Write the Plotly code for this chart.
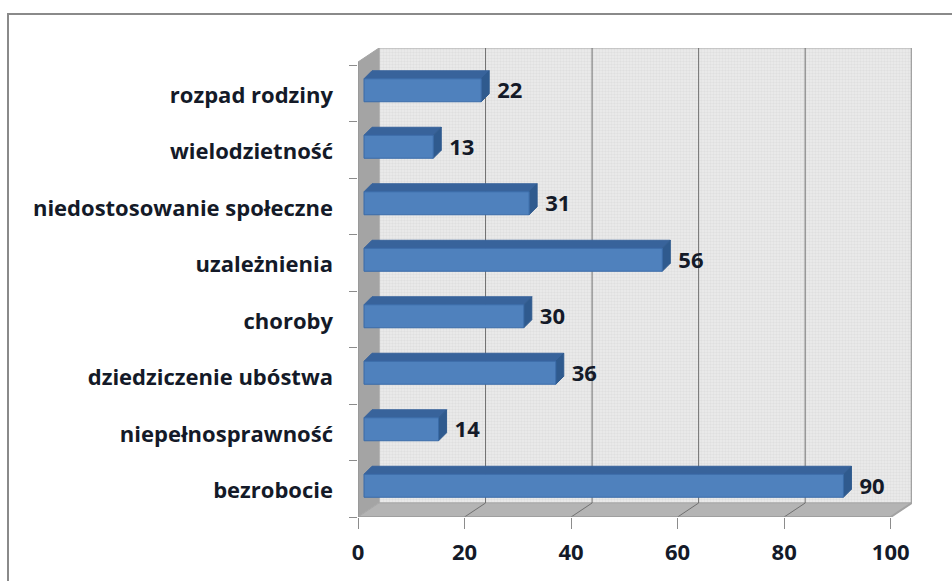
import plotly.graph_objects as go

categories = ["bezrobocie", "niepełnosprawność", "dziedziczenie ubóstwa", "choroby",
              "uzależnienia", "niedostosowanie społeczne", "wielodzietność", "rozpad rodziny"]
values = [90, 14, 36, 30, 56, 31, 13, 22]
x_ticks = [0, 20, 40, 60, 80, 100]

W, H = 952, 581
LEFT, RIGHT, TOP, BOTTOM = 358, 912, 48, 517
SX = 5.327          # px per value unit
SY = 56.5           # px per category
DEPTH_X, DEPTH_Y = 21, 14   # wall depth in px
BAR_DX, BAR_DY = 8, 8       # bar depth in px
BAR_START = 6 / SX
BAR_H = 23 / SY
BAR_CENTER_SHIFT = 3 / SY
LABEL_GAP = 8 / SX

dx, dy = DEPTH_X / SX, DEPTH_Y / SY
ddx, ddy = BAR_DX / SX, BAR_DY / SY
y0 = -0.5
y1 = y0 + (BOTTOM - TOP) / SY
xmax = (RIGHT - LEFT) / SX
back_top = y1
wall_top = y1 - dy
FONT = "Open Sans"
FS = 22
TXT = "#141a28"

fig = go.Figure()


def poly(xs, ys, fill, line=None, **kw):
    fig.add_trace(go.Scatter(x=xs, y=ys, mode="lines", fill="toself", fillcolor=fill,
                             line=dict(color=line or fill, width=1), hoverinfo="skip",
                             showlegend=False, xaxis="x", yaxis="y", **kw))


# back wall
poly([dx, 100 + dx, 100 + dx, dx, dx], [y0 + dy, y0 + dy, back_top, back_top, y0 + dy], "#e6e6e6", "#a6a6a6",
     fillpattern=dict(shape=".", bgcolor="#ececec", fgcolor="#d2d2d2", size=3, solidity=0.5))
# side wall
poly([0, dx, dx, 0, 0], [y0, y0 + dy, back_top, wall_top, y0], "#a4a4a4", "#a4a4a4")
# floor
poly([0, 100, 100 + dx, dx, 0], [y0, y0, y0 + dy, y0 + dy, y0], "#b4b4b4", "#a8a8a8")

# gridlines: across the floor then up the back wall
for t in x_ticks[1:-1]:
    fig.add_trace(go.Scatter(x=[t, t + dx, t + dx], y=[y0, y0 + dy, back_top], mode="lines",
                             line=dict(color="#707070", width=1), hoverinfo="skip",
                             showlegend=False, xaxis="x", yaxis="y"))
# right edge of back wall, thicker
fig.add_trace(go.Scatter(x=[100, 100 + dx, 100 + dx], y=[y0, y0 + dy, back_top], mode="lines",
                         line=dict(color="#a2a2a2", width=2), hoverinfo="skip",
                         showlegend=False, xaxis="x", yaxis="y"))
# front edges of the floor and side wall
fig.add_trace(go.Scatter(x=[0, 100], y=[y0, y0], mode="lines", line=dict(color="#909090", width=1),
                         hoverinfo="skip", showlegend=False, xaxis="x", yaxis="y"))
fig.add_trace(go.Scatter(x=[0, 0], y=[y0, wall_top], mode="lines", line=dict(color="#909090", width=1),
                         hoverinfo="skip", showlegend=False, xaxis="x", yaxis="y"))

# bar top + side faces
for i, v in enumerate(values):
    c = i + BAR_CENTER_SHIFT
    lo, hi = c - BAR_H / 2, c + BAR_H / 2
    x0, x1 = BAR_START, BAR_START + v
    poly([x0, x1, x1 + ddx, x0 + ddx, x0], [hi, hi, hi + ddy, hi + ddy, hi], "#38639b")
    poly([x1, x1 + ddx, x1 + ddx, x1, x1], [lo, lo + ddy, hi + ddy, hi, lo], "#2f5a8e")

# value labels
fig.add_trace(go.Scatter(
    x=[BAR_START + v + ddx + LABEL_GAP for v in values],
    y=[i + 0.5 / SY for i in range(len(values))],
    mode="text", text=[str(v) for v in values], textposition="middle right",
    textfont=dict(family=FONT, size=FS, color=TXT, weight=700),
    hoverinfo="skip", showlegend=False, xaxis="x", yaxis="y"))

# bar front faces, on the category axis
fig.add_trace(go.Bar(
    x=values, y=categories, base=BAR_START, orientation="h", xaxis="x", yaxis="y2",
    width=BAR_H, offset=-BAR_H / 2 + BAR_CENTER_SHIFT,
    marker=dict(color="#4f81bd", line=dict(color="#3a6ba8", width=1)),
    showlegend=False))

fig.update_layout(
    width=W, height=H,
    margin=dict(l=LEFT, r=W - RIGHT, t=TOP, b=H - BOTTOM, pad=0),
    paper_bgcolor="white", plot_bgcolor="white",
    font=dict(family=FONT, size=FS, color=TXT, weight=700),
    xaxis=dict(range=[0, xmax], tickmode="array", tickvals=x_ticks, showgrid=False, zeroline=False,
               ticks="outside", ticklen=11, tickcolor="#8c8c8c", tickwidth=1, showline=False,
               ticklabelstandoff=5),
    yaxis=dict(range=[y0, y1], showgrid=False, zeroline=False, showticklabels=False, ticks="", showline=False),
    yaxis2=dict(overlaying="y", side="left", type="category", categoryorder="array", categoryarray=categories,
                range=[y0, y1], showgrid=False, zeroline=False, ticks="outside", ticklen=8,
                tickcolor="#8c8c8c", tickwidth=1, tickson="boundaries", showline=False, ticklabelstandoff=24,
                ticklabelshift=2),
    shapes=[dict(type="rect", xref="paper", yref="paper", layer="below",
                 x0=(8 - LEFT) / (RIGHT - LEFT), x1=(1000 - LEFT) / (RIGHT - LEFT),
                 y0=(BOTTOM - 640) / (BOTTOM - TOP), y1=(BOTTOM - 14) / (BOTTOM - TOP),
                 line=dict(color="#8a8a8a", width=2), fillcolor="rgba(0,0,0,0)")],
)

fig.write_html("out.html", config={"displayModeBar": False},
               post_script="document.body.style.margin='0';")
